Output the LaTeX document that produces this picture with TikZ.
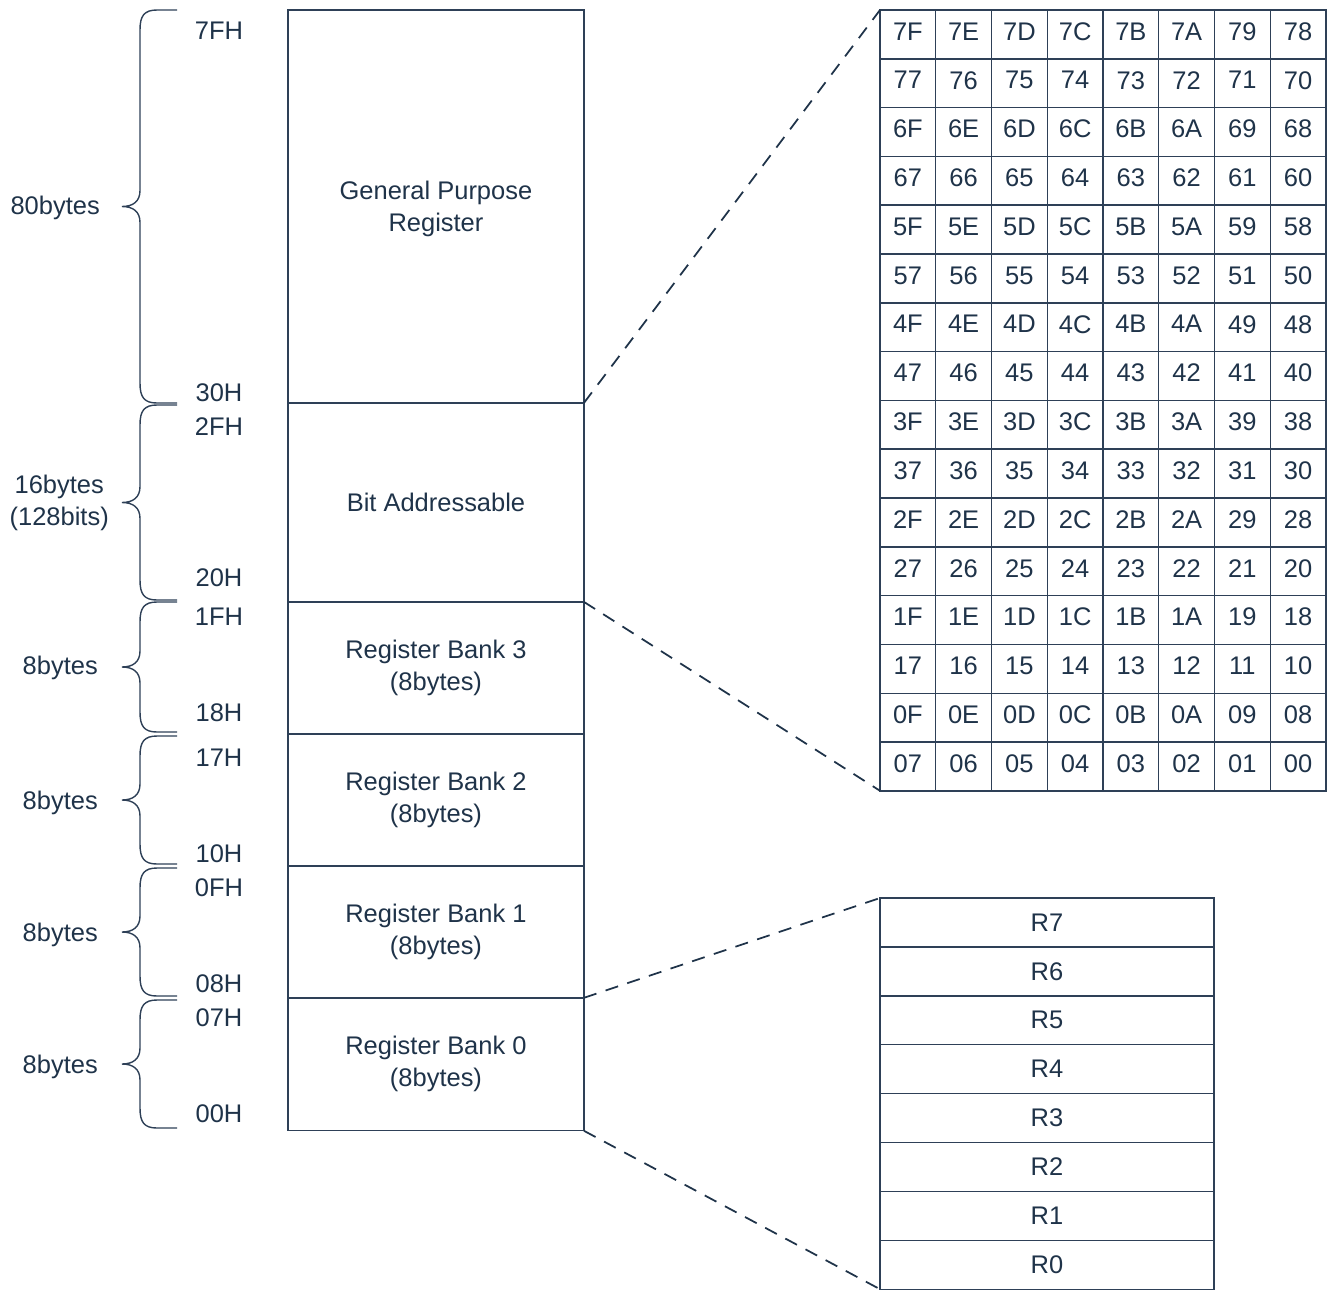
\documentclass[tikz,border=0pt]{standalone}
\usepackage{fontspec}
\setmainfont{Liberation Sans}
\usetikzlibrary{positioning,calc}
\definecolor{inkblue}{HTML}{1F3349}
\definecolor{lineblue}{HTML}{2E4057}
\newcommand{\memfont}{\fontsize{14.5}{18.2}\selectfont}
\tikzset{
  section/.style={draw=lineblue,line width=0.8pt,minimum width=5.92cm,inner sep=0pt,outer sep=0pt,align=center,font=\memfont,text=inkblue},
  cellnode/.style={draw=lineblue,line width=0.8pt,minimum width=1.115cm,minimum height=0.976cm,inner sep=0pt,outer sep=0pt,text depth=3.4pt,font=\memfont,text=inkblue},
  regnode/.style={draw=lineblue,line width=0.8pt,minimum width=6.68cm,minimum height=0.978cm,inner sep=0pt,outer sep=0pt,font=\memfont,text=inkblue},
  addr/.style={font=\memfont,text=inkblue},
  sizelabel/.style={font=\memfont,text=inkblue,align=center,anchor=east},
  zoomline/.style={draw=inkblue,line width=1pt,dash pattern=on 7.5pt off 5.5pt},
  bracepath/.style={draw=lineblue,line width=0.8pt}
}

\begin{document}
\begin{tikzpicture}[x=0.02cm,y=-0.02cm]
  \useasboundingbox (0,0) rectangle (1332,1289);

  % memory map
  \node[section,minimum height=7.86cm,anchor=north west] (gpr) at (288,10) {\strut General Purpose\\Register};
  \node[section,minimum height=3.98cm,below=0pt of gpr] (bitaddr) {Bit Addressable};
  \node[section,minimum height=2.64cm,below=0pt of bitaddr] (bank3) {Register Bank 3\\(8bytes)};
  \node[section,minimum height=2.64cm,below=0pt of bank3] (bank2) {Register Bank 2\\(8bytes)};
  \node[section,minimum height=2.64cm,below=0pt of bank2] (bank1) {Register Bank 1\\(8bytes)};
  \node[section,minimum height=2.66cm,below=0pt of bank1] (bank0) {Register Bank 0\\(8bytes)};

  % addresses
  \foreach \txt/\y in {7FH/31,30H/393,2FH/427,20H/578,1FH/617,18H/713,17H/758,10H/854,0FH/888,08H/984,07H/1018,00H/1114}
    \node[addr] (addr-\txt) at (219,\y) {\txt};

  % braces and sizes
  \foreach \ya/\yb in {10/403,405/600,602/732,736/864,868/996,1000/1128} {
    \pgfmathsetmacro{\ym}{(\ya+\yb)/2}
    \draw[bracepath] (177,\ya) -- (157,\ya) .. controls (144,\ya) and (140,\ya+6) .. (140,\ya+20)
      -- (140,\ym-16) .. controls (140,\ym-5) and (133,\ym) .. (122,\ym)
      .. controls (133,\ym) and (140,\ym+5) .. (140,\ym+16)
      -- (140,\yb-20) .. controls (140,\yb-6) and (144,\yb) .. (157,\yb) -- (177,\yb);
  }
  \node[sizelabel] (size-gpr) at (106,208) {80bytes};
  \node[sizelabel] (size-bit) at (115,503) {16bytes\\(128bits)};
  \node[sizelabel] (size-b3) at (104,668) {8bytes};
  \node[sizelabel] (size-b2) at (104,803) {8bytes};
  \node[sizelabel] (size-b1) at (104,935) {8bytes};
  \node[sizelabel] (size-b0) at (104,1067) {8bytes};

  % bit address grid
  \foreach \hi [count=\p from 0] in {7,6,5,4,3,2,1,0}
    \foreach \lo [count=\q from 0] in {F,E,D,C,B,A,9,8,7,6,5,4,3,2,1,0} {
      \pgfmathtruncatemacro{\row}{2*\p+int(\q/8)}
      \pgfmathtruncatemacro{\col}{mod(\q,8)}
      \node[cellnode,anchor=north west] (cell-\row-\col) at ({880+55.75*\col},{10+48.8*\row}) {\hi\lo};
    }

  % register bank detail
  \foreach \r [count=\i from 0] in {7,6,5,4,3,2,1,0}
    \node[regnode,anchor=north west] (reg\r) at (880,{898+48.9*\i}) {R\r};

  % zoom lines
  \draw[zoomline] (gpr.south east) -- (cell-0-0.north west);
  \draw[zoomline] (bitaddr.south east) -- (cell-15-0.south west);
  \draw[zoomline] (bank0.north east) -- (reg7.north west);
  \draw[zoomline] (bank0.south east) -- (reg0.south west);
\end{tikzpicture}
\end{document}
